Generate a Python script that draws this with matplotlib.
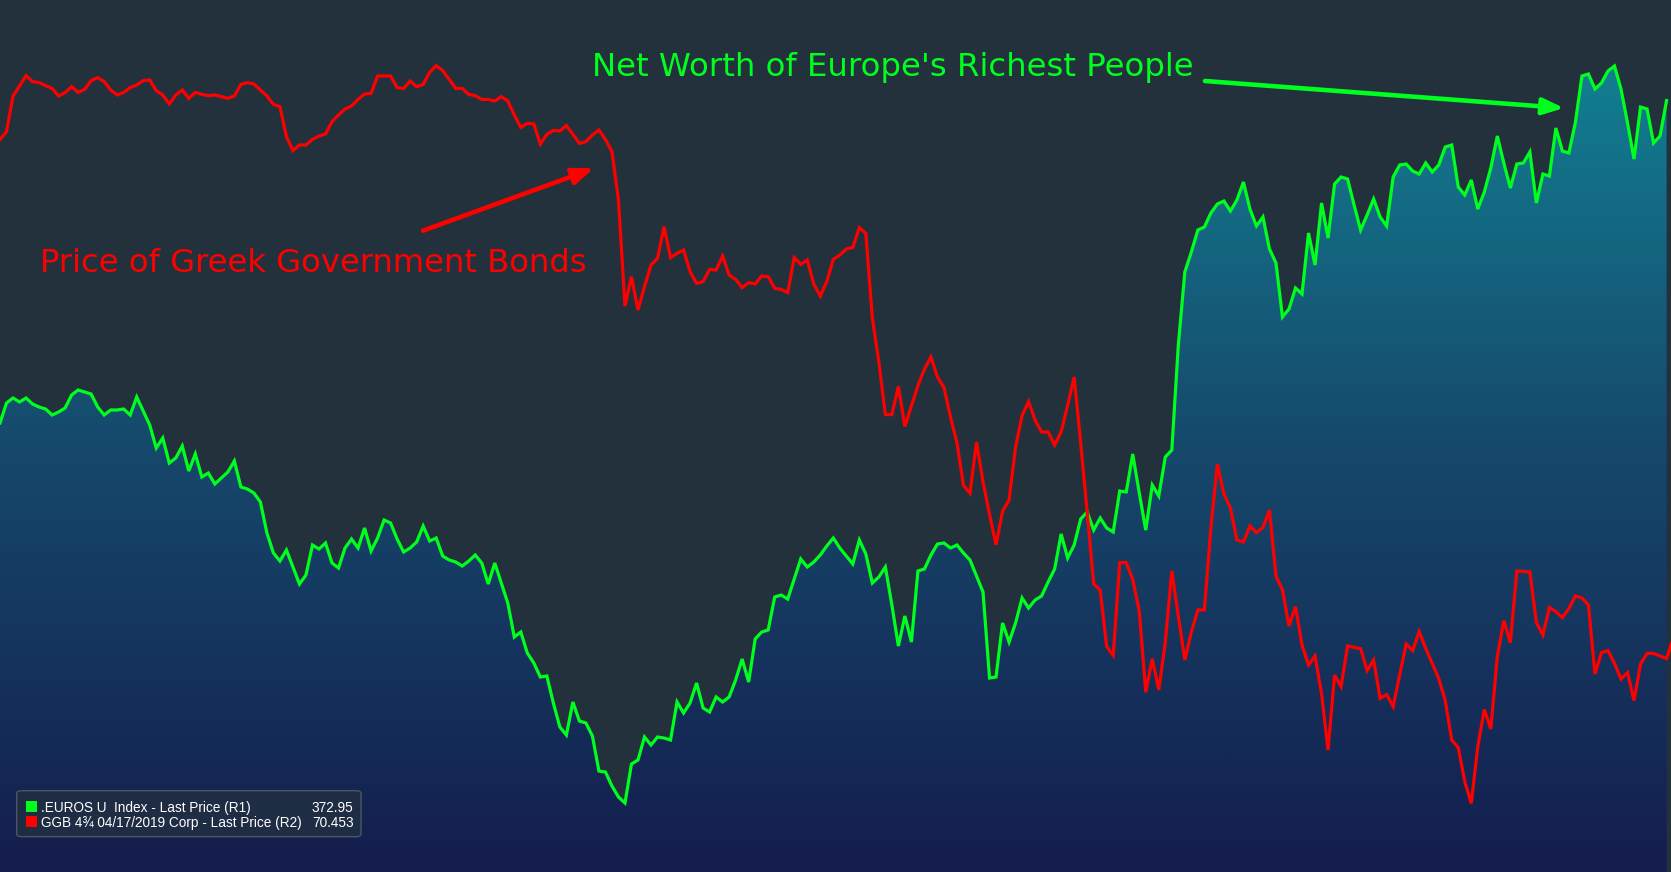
import numpy as np
import matplotlib
matplotlib.use("Agg")
import matplotlib.pyplot as plt
from matplotlib.colors import LinearSegmentedColormap
from matplotlib.patches import Polygon, FancyBboxPatch, Rectangle

# .EUROS U Index - last price (R1)
euros_idx = [
    340.7, 342.7, 343.2, 342.8, 343.2, 342.6, 342.3, 342.1, 341.5, 341.8,
    342.2, 343.5, 344.0, 343.8, 343.6, 342.3, 341.5, 342.0, 342.0, 342.1,
    341.5, 343.3, 341.9, 340.5, 338.2, 339.2, 336.7, 337.2, 338.4, 335.9,
    337.6, 335.3, 335.7, 334.6, 335.2, 335.8, 336.9, 334.3, 334.1, 333.7,
    332.8, 329.7, 327.7, 326.9, 328.0, 326.3, 324.6, 325.5, 328.5, 328.1,
    328.7, 326.7, 326.2, 328.2, 329.1, 328.2, 330.2, 327.9, 329.2, 331.0,
    330.7, 329.1, 327.8, 328.2, 328.8, 330.4, 328.9, 329.2, 327.4, 327.0,
    326.8, 326.4, 326.9, 327.5, 326.7, 324.6, 326.7, 324.7, 322.7, 319.3,
    319.8, 317.7, 316.7, 315.3, 315.4, 312.7, 310.3, 309.5, 312.8, 310.9,
    310.7, 309.4, 305.9, 305.8, 304.4, 303.3, 302.7, 306.6, 307.0, 309.3,
    308.5, 309.3, 309.2, 309.0, 312.8, 311.7, 312.7, 314.7, 312.2, 311.8,
    313.3, 312.8, 313.3, 315.0, 317.1, 314.8, 319.1, 319.8, 320.0, 323.3,
    323.5, 323.1, 325.1, 327.1, 326.3, 326.8, 327.5, 328.4, 329.2, 328.2,
    327.4, 326.6, 329.0, 327.6, 324.7, 325.3, 326.3, 322.5, 318.4, 321.4,
    318.8, 325.9, 326.1, 327.5, 328.6, 328.7, 328.2, 328.5, 327.7, 327.0,
    325.4, 323.8, 315.2, 315.3, 320.7, 318.8, 320.7, 323.2, 322.2, 323.0,
    323.4, 324.8, 326.1, 329.6, 327.2, 328.5, 331.1, 331.8, 330.0, 331.2,
    330.2, 329.8, 333.9, 333.8, 337.6, 333.7, 330.0, 334.5, 333.4, 337.3,
    338.0, 348.5, 355.8, 357.8, 360.0, 360.3, 361.7, 362.6, 362.9, 361.9,
    363.0, 364.8, 362.1, 360.4, 361.3, 358.1, 356.7, 351.3, 352.1, 354.2,
    353.6, 359.7, 356.5, 362.7, 359.2, 364.6, 365.3, 365.1, 362.5, 360.0,
    361.5, 363.1, 361.3, 360.4, 365.3, 366.5, 366.6, 365.9, 365.6, 366.7,
    365.8, 366.5, 368.3, 368.5, 364.3, 363.5, 365.0, 362.1, 363.8, 366.2,
    369.4, 366.7, 364.2, 366.6, 366.7, 367.8, 362.7, 365.6, 365.4, 370.2,
    367.9, 367.7, 370.8, 375.4, 375.6, 374.1, 374.7, 375.9, 376.4, 374.1,
    370.7, 367.1, 372.3, 372.1, 368.7, 369.4, 372.95,
]

# GGB 4 3/4 04/17/2019 Corp - last price (R2)
ggb_price = [
    95.43, 95.82, 97.60, 98.10, 98.62, 98.32, 98.27, 98.12, 97.98, 97.60,
    97.77, 98.07, 97.78, 97.93, 98.37, 98.52, 98.32, 97.90, 97.65, 97.78,
    98.02, 98.15, 98.37, 98.40, 97.87, 97.65, 97.20, 97.65, 97.90, 97.48,
    97.78, 97.68, 97.62, 97.65, 97.57, 97.48, 97.60, 98.18, 98.27, 98.20,
    97.90, 97.60, 97.18, 97.07, 95.57, 94.87, 95.15, 95.15, 95.43, 95.60,
    95.70, 96.32, 96.65, 96.95, 97.10, 97.43, 97.70, 97.73, 98.60, 98.60,
    98.60, 98.02, 97.98, 98.35, 98.07, 98.18, 98.78, 99.12, 98.87, 98.43,
    97.98, 97.98, 97.68, 97.62, 97.43, 97.43, 97.35, 97.57, 97.35, 96.65,
    96.03, 96.23, 96.20, 95.20, 95.68, 95.88, 95.85, 96.12, 95.68, 95.23,
    95.32, 95.65, 95.90, 95.43, 94.82, 92.40, 87.10, 88.57, 86.90, 88.07,
    89.15, 89.48, 91.07, 89.52, 89.73, 89.90, 88.82, 88.23, 88.32, 88.93,
    88.90, 89.60, 88.65, 88.43, 88.02, 88.27, 88.20, 88.60, 88.57, 87.98,
    87.93, 87.77, 89.52, 89.18, 89.40, 88.20, 87.60, 88.32, 89.43, 89.65,
    89.95, 90.03, 91.02, 90.73, 86.50, 84.30, 81.67, 81.67, 83.08, 81.08,
    82.10, 83.12, 83.94, 84.55, 83.55, 83.03, 81.56, 80.26, 78.13, 77.74,
    80.30, 78.31, 76.68, 75.16, 76.83, 77.40, 80.04, 81.62, 82.32, 81.39,
    80.80, 80.80, 80.15, 80.80, 82.14, 83.55, 80.26, 76.79, 73.21, 72.89,
    70.07, 69.63, 74.27, 74.27, 73.43, 71.84, 67.79, 69.46, 67.90, 70.30,
    73.85, 71.60, 69.40, 70.80, 71.90, 71.90, 76.00, 79.20, 77.70, 77.00,
    75.40, 75.30, 76.10, 75.77, 76.03, 76.90, 73.60, 72.90, 71.10, 72.07,
    70.15, 69.15, 69.60, 67.73, 64.90, 68.65, 68.07, 70.10, 70.03, 69.97,
    68.87, 69.40, 67.48, 67.67, 67.07, 68.65, 70.20, 69.87, 70.82, 69.98,
    69.23, 68.48, 67.37, 65.40, 65.02, 63.32, 62.23, 65.07, 66.93, 65.95,
    69.57, 71.37, 70.27, 73.85, 73.83, 73.80, 71.27, 70.65, 72.03, 71.82,
    71.52, 71.98, 72.60, 72.50, 72.15, 68.70, 69.77, 69.87, 69.23, 68.45,
    68.77, 67.37, 69.20, 69.73, 69.73, 69.60, 69.48, 70.45,
]

legend_labels = [".EUROS U  Index - Last Price (R1)",
                 "GGB 4\u00be 04/17/2019 Corp - Last Price (R2)"]
legend_values = ["372.95", "70.453"]

bg = "#22313c"
green = "#00ff1e"
red = "#ff0000"

g_lo, g_hi = 295.8, 383.0
r_lo, r_hi = 58.8, 102.4
x_max = 256.68

x_g = np.arange(len(euros_idx))
x_r = np.arange(len(ggb_price))

fig = plt.figure(figsize=(16.71, 8.72), dpi=100)
fig.patch.set_facecolor(bg)
ax = fig.add_axes([0, 0, 1, 1])
ax.set_facecolor(bg)

# gradient under the green series
cmap = LinearSegmentedColormap.from_list(
    "bbg", [(0.0, "#141d4d"), (0.5, "#164a6d"), (0.93, "#127f91"), (1.0, "#128494")])
grad = np.linspace(0, 1, 400).reshape(-1, 1)
im = ax.imshow(grad, extent=[0, x_max, g_lo, g_hi], aspect="auto", origin="lower",
               cmap=cmap, zorder=1)
verts = np.column_stack([np.r_[x_g, x_g[-1], x_g[0]],
                         np.r_[euros_idx, g_lo, g_lo]])
clip = Polygon(verts, closed=True, transform=ax.transData, facecolor="none", edgecolor="none")
ax.add_patch(clip)
im.set_clip_path(clip)

ax.plot(x_g, euros_idx, color=green, lw=2.3, zorder=3, solid_joinstyle="miter")
ax.set_xlim(0, x_max)
ax.set_ylim(g_lo, g_hi)
ax.set_axis_off()

ax2 = ax.twinx()
ax2.plot(x_r, ggb_price, color=red, lw=2.3, zorder=3, solid_joinstyle="miter")
ax2.set_xlim(0, x_max)
ax2.set_ylim(r_lo, r_hi)
ax2.set_axis_off()

# annotations
fig.text(0.3543, 0.9132, "Net Worth of Europe's Richest People", color=green,
         fontsize=23.3, family="DejaVu Sans", va="baseline", ha="left")
fig.text(0.0238, 0.6877, "Price of Greek Government Bonds", color=red,
         fontsize=23.2, family="DejaVu Sans", va="baseline", ha="left")

ax.annotate("", xy=(0.9360, 0.8761), xytext=(0.7211, 0.9071),
            xycoords="figure fraction", textcoords="figure fraction",
            arrowprops=dict(arrowstyle="-|>,head_length=0.9,head_width=0.35",
                            mutation_scale=14, lw=3.3, color=green,
                            shrinkA=0, shrinkB=0))
ax.annotate("", xy=(0.3555, 0.8070), xytext=(0.2531, 0.7354),
            xycoords="figure fraction", textcoords="figure fraction",
            arrowprops=dict(arrowstyle="-|>,head_length=0.9,head_width=0.35",
                            mutation_scale=14, lw=3.3, color=red,
                            shrinkA=0, shrinkB=0))

# legend box
W, H = 1671.0, 872.0
box = FancyBboxPatch((16.7 / W, 1 - 836.7 / H), (361 - 16.7) / W, (836.7 - 790.7) / H,
                     boxstyle="round,pad=0,rounding_size=0.003", transform=fig.transFigure,
                     facecolor="#1e2c44", edgecolor="#4d5565", lw=1.0, zorder=5)
fig.add_artist(box)
for k, (lab, val, col) in enumerate(zip(legend_labels, legend_values, [green, red])):
    base = 811.7 + k * 15.6
    fig.add_artist(Rectangle((25.5 / W, 1 - base / H), 11 / W, 11 / H,
                             transform=fig.transFigure, facecolor=col, edgecolor="none", zorder=6))
    fig.text(41 / W, 1 - base / H, lab, color="white", fontsize=9.8,
             family="Liberation Sans", va="baseline", ha="left", zorder=7)
    fig.text(353.5 / W, 1 - base / H, val, color="white", fontsize=9.8,
             family="Liberation Sans", va="baseline", ha="right", zorder=7)

fig.savefig("out.png", dpi=100, facecolor=bg)
